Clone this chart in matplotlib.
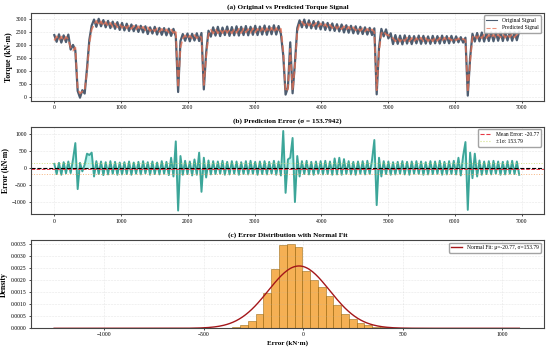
import numpy as np
import matplotlib
matplotlib.use('Agg')
import matplotlib.pyplot as plt
from matplotlib.ticker import FormatStrFormatter, MultipleLocator

plt.rcParams['font.family'] = ['Liberation Serif', 'DejaVu Serif']

# samples are taken every 35 steps of the torque record
sample_step = 35

original_signal = [
    2380, 2120, 2410, 2090, 2370, 2110, 2400, 1820, 2000, 1780,
    220, -40, 250, 120, 1100, 2200, 2750, 2980, 2700, 3010,
    2720, 2960, 2680, 2930, 2650, 2900, 2620, 2880, 2580, 2850,
    2560, 2820, 2540, 2790, 2530, 2760, 2500, 2740, 2480, 2720,
    2420, 2680, 2440, 2700, 2400, 2660, 2390, 2650, 2370, 2630,
    2350, 2620, 2330, 180, 2150, 2420, 2160, 2440, 2140, 2430,
    2170, 2450, 2150, 2460, 280, 1700, 2550, 2320, 2680, 2360,
    2700, 2340, 2670, 2380, 2710, 2350, 2690, 2370, 2720, 2360,
    2700, 2380, 2730, 2370, 2700, 2390, 2740, 2380, 2710, 2400,
    2750, 2390, 2720, 2410, 2760, 2400, 2730, 2420, 1600, 80,
    350, 2100, 130, 1300, 2650, 2950, 2680, 2980, 2660, 2950,
    2640, 2920, 2620, 2900, 2600, 2880, 2580, 2850, 2560, 2830,
    2540, 2800, 2520, 2790, 2480, 2760, 2470, 2740, 2450, 2720,
    2430, 2700, 2420, 2680, 2400, 2660, 2380, 2640, 90, 1900,
    2620, 2330, 2600, 2250, 2450, 2030, 2380, 2040, 2360, 2020,
    2370, 2050, 2350, 2030, 2340, 2060, 2360, 2040, 2350, 2050,
    2330, 2040, 2350, 2060, 2340, 2050, 2360, 2070, 2340, 2060,
    2350, 2080, 2330, 2100, 2300, 2090, 2280, 40, 1500, 2430,
    2130, 2460, 2140, 2480, 2130, 2470, 2150, 2490, 2140, 2480,
    2160, 2500, 2150, 2490, 2170, 2510, 2160, 2500, 2180, 2510,
]

predicted_signal = [
    2170, 2330, 2180, 2320, 2160, 2310, 2200, 1900, 1780, 1900,
    300, 120, 200, 260, 950, 2050, 2600, 2780, 2930, 2760,
    2910, 2740, 2880, 2720, 2850, 2700, 2830, 2680, 2800, 2660,
    2780, 2640, 2760, 2620, 2740, 2600, 2720, 2590, 2700, 2570,
    2680, 2540, 2650, 2530, 2640, 2510, 2620, 2500, 2600, 2480,
    2590, 2460, 2570, 350, 1900, 2250, 2370, 2240, 2360, 2250,
    2380, 2260, 2370, 2280, 450, 1550, 2400, 2580, 2440, 2610,
    2450, 2590, 2460, 2620, 2470, 2600, 2450, 2610, 2470, 2620,
    2460, 2630, 2480, 2610, 2470, 2640, 2480, 2620, 2490, 2650,
    2480, 2640, 2500, 2660, 2490, 2650, 2500, 2620, 1750, 200,
    300, 1850, 250, 1150, 2500, 2820, 2900, 2760, 2880, 2750,
    2870, 2730, 2850, 2710, 2830, 2690, 2800, 2670, 2780, 2650,
    2760, 2630, 2740, 2610, 2720, 2590, 2700, 2580, 2680, 2560,
    2660, 2540, 2640, 2530, 2620, 2510, 2600, 2500, 250, 1750,
    2450, 2520, 2400, 2380, 2280, 2260, 2140, 2270, 2130, 2260,
    2150, 2280, 2140, 2270, 2130, 2260, 2150, 2280, 2140, 2260,
    2150, 2270, 2140, 2280, 2160, 2270, 2150, 2280, 2160, 2270,
    2170, 2260, 2180, 2250, 2170, 2230, 2180, 180, 1350, 2300,
    2380, 2250, 2390, 2260, 2400, 2270, 2390, 2280, 2410, 2270,
    2400, 2290, 2420, 2280, 2410, 2300, 2430, 2290, 2420, 2300,
]

prediction_error = [
    120, -180, 150, -200, 170, -160, 190, -150, 250, 730,
    -620, 150, -100, 100, 420, 380, 450, -250, 200, -180,
    190, -210, 170, -190, 200, -170, 180, -200, 160, -190,
    170, -180, 190, -200, 160, -170, 180, -190, 200, -160,
    170, -200, 190, -180, 160, -190, 200, -170, 180, -210,
    300, -250, 780, -1250, 350, -200, 210, -180, 190, -220,
    250, -200, 450, -700, 300, -280, 220, -190, 200, -180,
    190, -170, 210, -200, 180, -190, 200, -170, 190, -200,
    170, -180, 200, -190, 210, -170, 180, -200, 190, -180,
    200, -190, 180, -170, 210, -200, 190, -220, 1085, -730,
    250, 300, 880, -1000, 350, -250, 200, -180, 210, -190,
    180, -200, 190, -170, 200, -190, 210, -180, 190, -200,
    280, -190, 300, -200, 260, -180, 200, -190, 180, -200,
    190, -170, 200, -190, 210, -180, 230, 820, -1090, 300,
    -250, 200, -180, 190, -200, 170, -190, 180, -170, 200,
    -190, 180, -200, 190, -170, 200, -180, 190, -200, 170,
    -190, 200, -180, 190, -170, 210, -200, 180, -190, 200,
    -180, 210, -190, 300, -220, 350, 760, -1230, 450, -300,
    420, -250, 220, -200, 190, -180, 200, -190, 210, -170,
    190, -200, 180, -190, 200, -170, 210, -180, 190, -200,
]

err_mean = -20.77
err_std = 153.7942
err_min, err_max = -1250, 1085

# density of each of the 60 histogram bins between err_min and err_max
hist_density = [
    0.000005, 0, 0, 0, 0, 0.000003, 0, 0, 0, 0,
    0.000003, 0, 0, 0, 0.000003, 0, 0.000003, 0, 0.000003, 0.000005,
    0.00001, 0.00002, 0.00003, 0.00005, 0.00014, 0.00031, 0.00059, 0.00147, 0.00247, 0.00347,
    0.0035, 0.0034, 0.0024, 0.00202, 0.00171, 0.00134, 0.00097, 0.00058, 0.00037, 0.0002,
    0.00012, 0.00007, 0.00004, 0.00002, 0.00001, 0.000005, 0.000003, 0, 0.000003, 0,
    0, 0, 0, 0, 0, 0, 0, 0, 0, 0.000005,
]

samples = np.arange(len(original_signal)) * sample_step

fig, axes = plt.subplots(3, 1, figsize=(5.5, 3.49), dpi=100)
plt.subplots_adjust(left=0.0564, right=0.9885, top=0.9636, bottom=0.0593, hspace=0.294)

title_kw = dict(fontsize=5.2, fontweight='bold', pad=3)
label_kw = dict(fontsize=5.6, fontweight='bold', labelpad=2)
legend_kw = dict(loc='upper right', fontsize=4.0, framealpha=0.9, edgecolor='#999999')


def style(ax):
    ax.grid(True, linestyle='--', linewidth=0.4, alpha=0.3)
    ax.tick_params(labelsize=4.1, length=1.5, width=0.5, pad=1.5)
    for s in ax.spines.values():
        s.set_color('#444444')
        s.set_linewidth(0.8)


# (a) original vs predicted
ax = axes[0]
ax.plot(samples, original_signal, color='#2E4057', linewidth=1.6, alpha=0.85, label='Original Signal')
ax.plot(samples, predicted_signal, color='#E76F51', linewidth=1.3, linestyle='--', alpha=0.75,
        label='Predicted Signal')
ax.set_xlim(-349, 7332)
ax.set_ylim(-155, 3245)
ax.xaxis.set_major_locator(MultipleLocator(1000))
ax.set_title('(a) Original vs Predicted Torque Signal', **title_kw)
ax.set_ylabel('Torque (kN·m)', **label_kw)
leg = ax.legend(**legend_kw)
for line in leg.get_lines():
    line.set_linewidth(0.8)
style(ax)

# (b) prediction error
ax = axes[1]
ax.fill_between(samples, prediction_error, 0, color='#40E0D0', alpha=0.35, linewidth=0)
ax.plot(samples, prediction_error, color='#2A9D8F', linewidth=1.4, alpha=0.9)
ax.axhline(0, color='black', linestyle='--', linewidth=0.8)
ax.axhline(err_mean, color='#E63946', linestyle='--', linewidth=0.7, label=f'Mean Error: {err_mean:.2f}')
ax.axhline(err_mean + err_std, color='#C9D86A', linestyle=':', linewidth=0.7, alpha=0.8,
           label=f'±1σ: {err_std:.2f}')
ax.axhline(err_mean - err_std, color='#F4A261', linestyle=':', linewidth=0.7, alpha=0.8)
ax.set_xlim(-349, 7332)
ax.set_ylim(-1365, 1216)
ax.xaxis.set_major_locator(MultipleLocator(1000))
ax.yaxis.set_major_locator(MultipleLocator(500))
ax.set_title(f'(b) Prediction Error (σ = {err_std:.4f})', **title_kw)
ax.set_ylabel('Error (kN·m)', **label_kw)
leg = ax.legend(**legend_kw)
for line in leg.get_lines():
    line.set_linewidth(0.8)
style(ax)

# (c) error distribution
ax = axes[2]
edges = np.linspace(err_min, err_max, len(hist_density) + 1)
ax.bar(edges[:-1], hist_density, width=np.diff(edges), align='edge', color='#F4A236',
       edgecolor='#8B5A00', linewidth=0.4, alpha=0.85)
xs = np.linspace(err_min, err_max, 300)
pdf = np.exp(-0.5 * ((xs - err_mean) / err_std) ** 2) / (err_std * np.sqrt(2 * np.pi))
ax.plot(xs, pdf, color='#A4161A', linewidth=1.0,
        label=f'Normal Fit: μ={err_mean:.2f}, σ={err_std:.2f}')
ax.set_xlim(-1366, 1207)
ax.set_ylim(0, 0.00366)
ax.xaxis.set_major_locator(MultipleLocator(500))
ax.yaxis.set_major_locator(MultipleLocator(0.0005))
ax.yaxis.set_major_formatter(FormatStrFormatter('%.4f'))
ax.set_title('(c) Error Distribution with Normal Fit', **title_kw)
ax.set_xlabel('Error (kN·m)', fontsize=5.0, fontweight='bold', labelpad=2)
ax.set_ylabel('Density', **label_kw)
ax.legend(**legend_kw)
style(ax)

plt.savefig('out.png', dpi=100)
